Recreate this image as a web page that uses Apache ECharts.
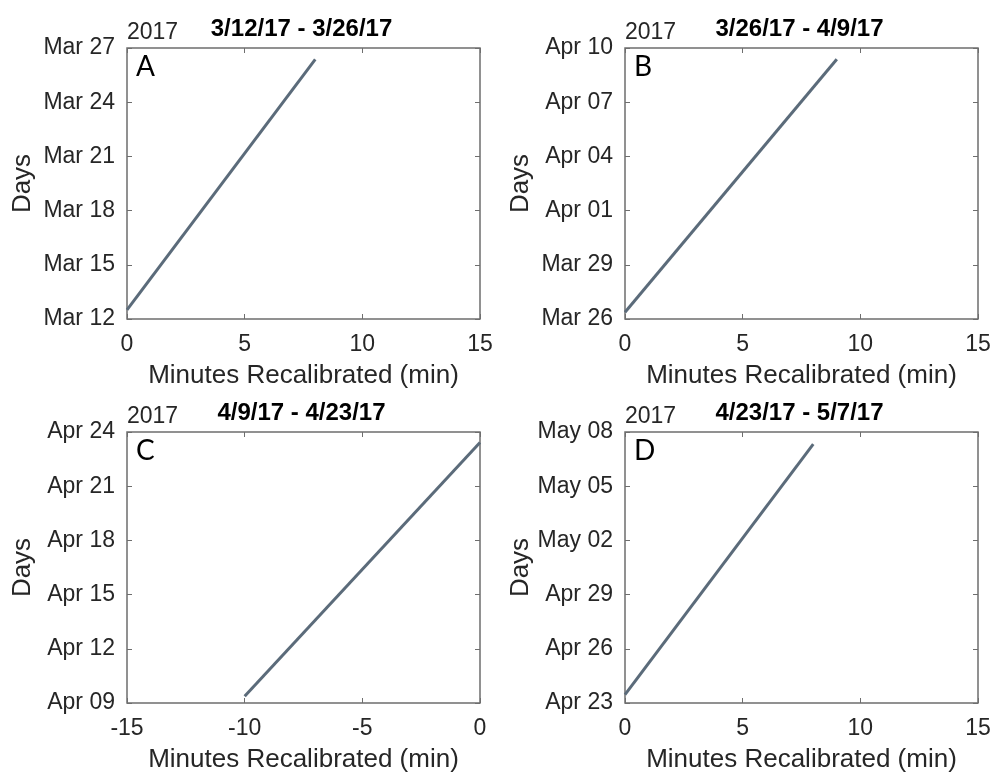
<!DOCTYPE html>
<html>
<head>
<meta charset="utf-8">
<title>Minutes Recalibrated per two-week period</title>
<script src="https://cdn.jsdelivr.net/npm/echarts@6/dist/echarts.min.js"></script>
<style>
  html, body { margin: 0; padding: 0; background: #ffffff; }
  #chart { width: 994px; height: 774px; }
</style>
</head>
<body>
<div id="chart"></div>
<script>
// ---- data ----
const MONTH_NAMES = ['Jan', 'Feb', 'Mar', 'Apr', 'May', 'Jun', 'Jul', 'Aug', 'Sep', 'Oct', 'Nov', 'Dec'];
const YEAR_LABEL = '2017';
const panelLetters = ['A', 'B', 'C', 'D'];
const panelTitles = ['3/12/17 - 3/26/17', '3/26/17 - 4/9/17', '4/9/17 - 4/23/17', '4/23/17 - 5/7/17'];

// y axis (days): first day shown, span and step in days
const dayAxisStart = ['2017-03-12', '2017-03-26', '2017-04-09', '2017-04-23'];
const dayAxisSpan = 15;
const dayTickStep = 3;

// x axis (minutes) ranges
const minuteAxisMin = [0, 0, -15, 0];
const minuteAxisMax = [15, 15, 0, 15];
const minuteTickStep = 5;

// series: minutes recalibrated vs. time
const minutesA = [0, 8];
const timesA = ['2017-03-12T12:00', '2017-03-26T09:00'];
const minutesB = [0, 9];
const timesB = ['2017-03-26T09:00', '2017-04-09T09:00'];
const minutesC = [-10, 0];
const timesC = ['2017-04-09T09:00', '2017-04-23T10:00'];
const minutesD = [0, 8];
const timesD = ['2017-04-23T11:00', '2017-05-07T08:00'];

const seriesMinutes = [minutesA, minutesB, minutesC, minutesD];
const seriesTimes = [timesA, timesB, timesC, timesD];

// ---- helpers ----
const DAY_MS = 86400000;
function dayNumber(s) {
  const parts = s.split('T');
  const ymd = parts[0].split('-').map(Number);
  const hm = (parts[1] || '00:00').split(':').map(Number);
  return Date.UTC(ymd[0], ymd[1] - 1, ymd[2], hm[0], hm[1]) / DAY_MS;
}
function dayLabel(v) {
  const d = new Date(Math.round(v) * DAY_MS);
  return MONTH_NAMES[d.getUTCMonth()] + ' ' + String(d.getUTCDate()).padStart(2, '0');
}

// ---- layout ----
const panels = [
  { left: 127, top: 48 },
  { left: 625, top: 48 },
  { left: 127, top: 432 },
  { left: 625, top: 432 }
];
const PLOT_W = 353, PLOT_H = 271;
const BOX = '#6e6e6e';
const TEXT = '#262626';
const LINE = '#5b6b7a';
const FONT = '"Liberation Sans", Arial, sans-serif';

function innerTicks() {
  return { show: true, inside: true, length: 5, lineStyle: { color: BOX, width: 1 } };
}

const grids = [], xAxes = [], yAxes = [], series = [], graphics = [];

panels.forEach((p, i) => {
  grids.push({
    left: p.left, top: p.top, width: PLOT_W, height: PLOT_H,
    show: true, borderColor: BOX, borderWidth: 1.5, backgroundColor: '#ffffff'
  });

  const yMin = dayNumber(dayAxisStart[i]);
  const yMax = yMin + dayAxisSpan;

  // bottom x axis (labelled) and top x axis (ticks only)
  xAxes.push({
    type: 'value', gridIndex: i, position: 'bottom',
    min: minuteAxisMin[i], max: minuteAxisMax[i], interval: minuteTickStep,
    axisLine: { show: false, onZero: false }, axisTick: innerTicks(), splitLine: { show: false },
    axisLabel: { color: TEXT, fontSize: 23, fontFamily: FONT, margin: 14, showMinLabel: true, showMaxLabel: true },
    name: 'Minutes Recalibrated (min)', nameLocation: 'middle', nameGap: 44,
    nameTextStyle: { color: TEXT, fontSize: 26, fontFamily: FONT }
  });
  xAxes.push({
    type: 'value', gridIndex: i, position: 'top',
    min: minuteAxisMin[i], max: minuteAxisMax[i], interval: minuteTickStep,
    axisLine: { show: false, onZero: false }, axisTick: innerTicks(), splitLine: { show: false },
    axisLabel: { show: false }
  });

  // left y axis (labelled) and right y axis (ticks only)
  yAxes.push({
    type: 'value', gridIndex: i, position: 'left',
    min: yMin, max: yMax, interval: dayTickStep,
    axisLine: { show: false, onZero: false }, axisTick: innerTicks(), splitLine: { show: false },
    axisLabel: {
      color: TEXT, fontSize: 23, fontFamily: FONT, margin: 12,
      showMinLabel: true, showMaxLabel: true, formatter: dayLabel
    },
    name: 'Days', nameLocation: 'middle', nameGap: 91,
    nameTextStyle: { color: TEXT, fontSize: 26, fontFamily: FONT }
  });
  yAxes.push({
    type: 'value', gridIndex: i, position: 'right',
    min: yMin, max: yMax, interval: dayTickStep,
    axisLine: { show: false, onZero: false }, axisTick: innerTicks(), splitLine: { show: false },
    axisLabel: { show: false }
  });

  series.push({
    type: 'line',
    xAxisIndex: 2 * i, yAxisIndex: 2 * i,
    data: seriesMinutes[i].map((m, k) => [m, dayNumber(seriesTimes[i][k])]),
    symbol: 'none', clip: false,
    lineStyle: { color: LINE, width: 3 },
    silent: true, animation: false
  });

  // year label, panel title, panel letter
  graphics.push({
    type: 'text', x: p.left, y: p.top - 15, silent: true,
    style: { text: YEAR_LABEL, fill: TEXT, font: '23px ' + FONT, align: 'left', verticalAlign: 'middle' }
  });
  graphics.push({
    type: 'text', x: p.left + PLOT_W / 2 - 2, y: p.top - 19, silent: true,
    style: { text: panelTitles[i], fill: '#000000', font: 'bold 24px ' + FONT, align: 'center', verticalAlign: 'middle' }
  });
  graphics.push({
    type: 'text', x: p.left + 9, y: p.top + 19, silent: true,
    style: { text: panelLetters[i], fill: '#000000', font: '28px Lato, "Open Sans", sans-serif', align: 'left', verticalAlign: 'middle' }
  });
});

const chart = echarts.init(document.getElementById('chart'), null, { renderer: 'canvas' });
chart.setOption({
  backgroundColor: '#ffffff',
  animation: false,
  grid: grids,
  xAxis: xAxes,
  yAxis: yAxes,
  series: series,
  graphic: graphics
});
</script>
</body>
</html>
